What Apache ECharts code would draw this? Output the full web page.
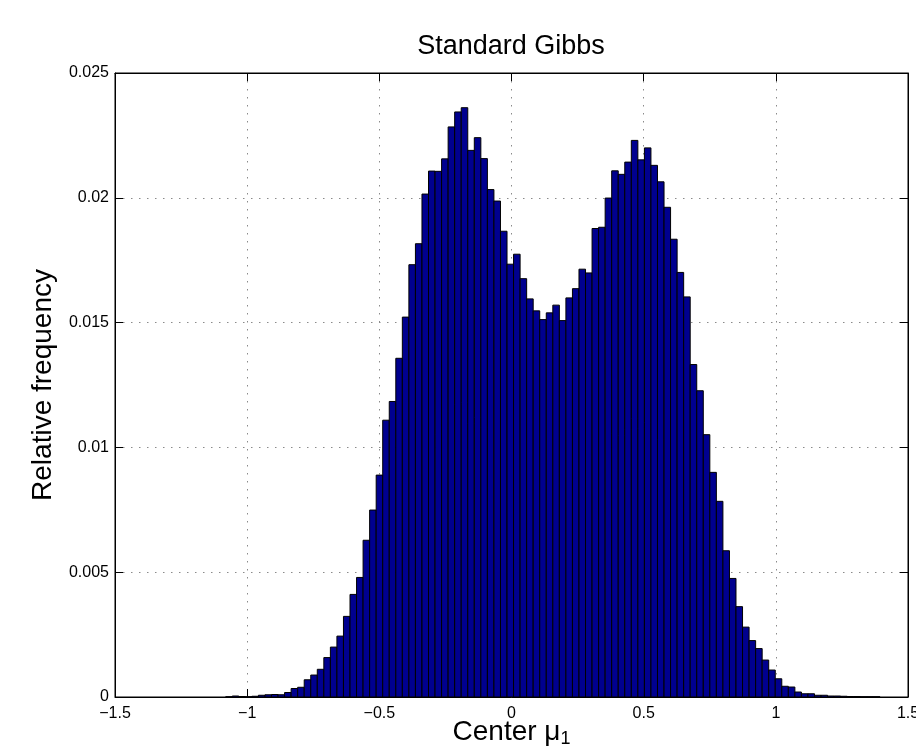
<!DOCTYPE html>
<html>
<head>
<meta charset="utf-8">
<script src="https://cdn.jsdelivr.net/npm/echarts@6/dist/echarts.min.js"></script>
<style>
html,body{margin:0;padding:0;background:#fff;}
#chart{width:916px;height:746px;}
</style>
</head>
<body>
<div id="chart"></div>
<script>
// Histogram: 100 bins of equal width
var binStart = -1.0812;
var binWidth = 0.02475;
var freq = [
  0.00001, 0.00004, 0.00002, 0.00001, 0.00003, 0.00007, 0.00009, 0.00010, 0.00009, 0.00018,
  0.00034, 0.00039, 0.00069, 0.00088, 0.00111, 0.00158, 0.00200, 0.00244, 0.00323, 0.00411,
  0.00479, 0.00628, 0.00749, 0.00889, 0.01109, 0.01184, 0.01357, 0.01522, 0.01732, 0.01816,
  0.02015, 0.02107, 0.02106, 0.02156, 0.02284, 0.02344, 0.02361, 0.02190, 0.02241, 0.02157,
  0.02033, 0.01987, 0.01866, 0.01734, 0.01774, 0.01676, 0.01595, 0.01547, 0.01512, 0.01539,
  0.01570, 0.01508, 0.01599, 0.01636, 0.01714, 0.01699, 0.01877, 0.01882, 0.01999, 0.02108,
  0.02094, 0.02143, 0.02230, 0.02152, 0.02200, 0.02130, 0.02064, 0.01962, 0.01834, 0.01701,
  0.01603, 0.01332, 0.01227, 0.01051, 0.00900, 0.00784, 0.00586, 0.00475, 0.00362, 0.00280,
  0.00226, 0.00194, 0.00148, 0.00108, 0.00073, 0.00043, 0.00040, 0.00020, 0.00013, 0.00013,
  0.00007, 0.00007, 0.00004, 0.00004, 0.00003, 0.00002, 0.00002, 0.00001, 0.00001, 0.00001
];
var xTicks = [-1.5, -1, -0.5, 0, 0.5, 1, 1.5];
var yTicks = [0, 0.005, 0.01, 0.015, 0.02, 0.025];
var titleText = 'Standard Gibbs';
var xName = 'Center μ';
var xNameSub = '1';
var yName = 'Relative frequency';

var FONT = 'Liberation Sans, Arial, Helvetica, sans-serif';

var barData = freq.map(function (v, i) {
  var lo = binStart + i * binWidth;
  return [lo, lo + binWidth, v];
});

function fmtX(v) {
  var s = String(v);
  return s.charAt(0) === '-' ? '\u2212' + s.slice(1) : s;
}

var chart = echarts.init(document.getElementById('chart'), null, {renderer: 'canvas'});
var gridLine = {show: true, lineStyle: {color: '#8a8a8a', width: 1, type: [1.5, 6.5]}};

chart.setOption({
  animation: false,
  backgroundColor: '#ffffff',
  graphic: [{
    type: 'text',
    x: 511, y: 47,
    style: {
      text: titleText, fontFamily: FONT, fontSize: 27, fill: '#000',
      textAlign: 'center', textVerticalAlign: 'middle'
    }
  }],
  grid: {left: 115, right: 8, top: 73, bottom: 49, show: true, borderColor: '#000', borderWidth: 1, backgroundColor: '#fff', outerBoundsMode: 'none', containLabel: false},
  xAxis: [{
    type: 'value', min: xTicks[0], max: xTicks[xTicks.length - 1], interval: 0.5,
    position: 'bottom',
    axisLine: {show: true, onZero: false, lineStyle: {color: '#000', width: 1}},
    axisTick: {show: true, inside: true, length: 8, lineStyle: {color: '#000'}},
    axisLabel: {color: '#000', fontFamily: FONT, fontSize: 16, margin: 9, formatter: fmtX, showMaxLabel: true, showMinLabel: true},
    splitLine: gridLine,
    name: '{m|' + xName + '}{s|' + xNameSub + '}',
    nameLocation: 'middle', nameGap: 21, nameMoveOverlap: false,
    nameTextStyle: {
      color: '#000', fontFamily: FONT, fontSize: 28, verticalAlign: 'top',
      rich: {
        m: {fontFamily: FONT, fontSize: 28, lineHeight: 30, color: '#000', verticalAlign: 'top'},
        s: {fontFamily: FONT, fontSize: 18, lineHeight: 30, color: '#000', verticalAlign: 'bottom'}
      }
    }
  }, {
    type: 'value', min: xTicks[0], max: xTicks[xTicks.length - 1], interval: 0.5,
    position: 'top',
    axisLine: {show: true, onZero: false, lineStyle: {color: '#000', width: 1}},
    axisTick: {show: true, inside: true, length: 8, lineStyle: {color: '#000'}},
    axisLabel: {show: false},
    splitLine: {show: false}
  }],
  yAxis: [{
    type: 'value', min: yTicks[0], max: yTicks[yTicks.length - 1], interval: 0.005,
    position: 'left',
    axisLine: {show: true, onZero: false, lineStyle: {color: '#000', width: 1}},
    axisTick: {show: true, inside: true, length: 8, lineStyle: {color: '#000'}},
    axisLabel: {color: '#000', fontFamily: FONT, fontSize: 16, margin: 6, showMaxLabel: true},
    splitLine: gridLine,
    name: yName, nameLocation: 'middle', nameGap: 58, nameRotate: 90, nameMoveOverlap: false,
    nameTextStyle: {color: '#000', fontFamily: FONT, fontSize: 28}
  }, {
    type: 'value', min: yTicks[0], max: yTicks[yTicks.length - 1], interval: 0.005,
    position: 'right',
    axisLine: {show: true, onZero: false, lineStyle: {color: '#000', width: 1}},
    axisTick: {show: true, inside: true, length: 8, lineStyle: {color: '#000'}},
    axisLabel: {show: false},
    splitLine: {show: false}
  }],
  series: [{
    type: 'custom',
    xAxisIndex: 0, yAxisIndex: 0,
    data: barData,
    encode: {x: [0, 1], y: 2},
    renderItem: function (params, api) {
      var p0 = api.coord([api.value(0), 0]);
      var p1 = api.coord([api.value(1), api.value(2)]);
      return {
        type: 'rect',
        shape: {x: p0[0], y: p1[1], width: p1[0] - p0[0], height: p0[1] - p1[1]},
        style: {fill: '#00008F', stroke: '#000', lineWidth: 1}
      };
    }
  }]
});
</script>
</body>
</html>
